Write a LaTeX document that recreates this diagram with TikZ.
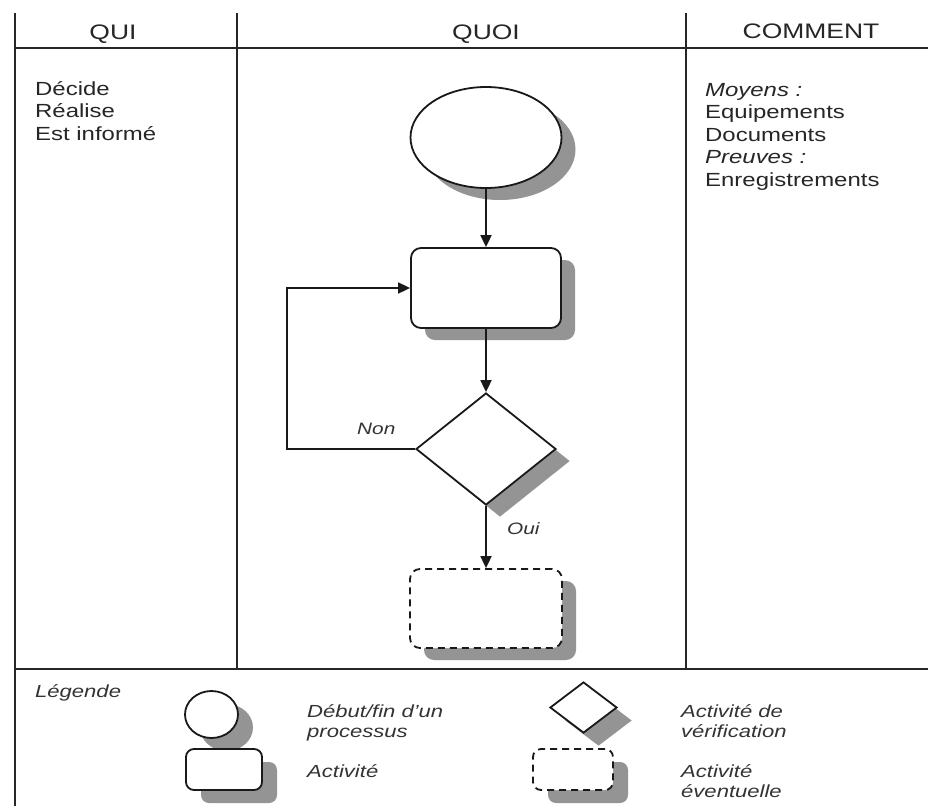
\documentclass[tikz,border=0pt]{standalone}
\usepackage{fontspec}
\setmainfont{Liberation Sans}
\usetikzlibrary{shapes.geometric,shadows,arrows.meta}
\newcommand{\stx}[1]{\scalebox{1.26}[1]{#1}}
\begin{document}
\begin{tikzpicture}[x=1pt,y=-1pt,
  tline/.style={draw=black!85,line width=2.4pt},
  fline/.style={draw=black!90,line width=1.8pt},
  arr/.style={fline,-{Triangle[length=12pt,width=11pt]}},
  shad/.style={drop shadow={shadow xshift=14pt,shadow yshift=-12pt,fill=black!42,opacity=1}},
  lshad/.style={drop shadow={shadow xshift=15pt,shadow yshift=-13pt,fill=black!42,opacity=1}},
  shapebox/.style={fline,fill=white,inner sep=0pt},
  dashbox/.style={shapebox,dash pattern=on 7pt off 5pt},
  txt/.style={inner sep=0pt,text=black!85,anchor=base west,font=\fontsize{19}{22}\selectfont},
  hdr/.style={inner sep=0pt,text=black!85,anchor=base,font=\fontsize{21}{24}\selectfont},
  leg/.style={inner sep=0pt,text=black!80,anchor=base west,font=\fontsize{17.5}{20}\selectfont\itshape},
  lbl/.style={inner sep=0pt,text=black!80,anchor=base west,font=\fontsize{16.5}{19}\selectfont\itshape}
]
\useasboundingbox[fill=white] (0,0) rectangle (928,806);

% table
\coordinate (tl) at (15,13);
\coordinate (bl) at (15,806);
\coordinate (d1t) at (237,13);
\coordinate (d1b) at (237,669);
\coordinate (d2t) at (686,13);
\coordinate (d2b) at (686,669);
\coordinate (h1l) at (15,48);
\coordinate (h1r) at (928,48);
\coordinate (h2l) at (15,669);
\coordinate (h2r) at (928,669);
\draw[tline] (tl) -- (bl);
\draw[tline] (d1t) -- (d1b);
\draw[tline] (d2t) -- (d2b);
\draw[tline] (h1l) -- (h1r);
\draw[tline] (h2l) -- (h2r);

% headers
\node[hdr] (hqui) at (113,39) {\stx{QUI}};
\node[hdr] (hquoi) at (486,39) {\stx{QUOI}};
\node[hdr] (hcomment) at (811,38) {\stx{COMMENT}};

% QUI column
\node[txt] (q1) at (35,95) {\stx{Décide}};
\node[txt] (q2) at (35,117.5) {\stx{Réalise}};
\node[txt] (q3) at (35,140) {\stx{Est informé}};

% COMMENT column
\node[txt] (c1) at (705,96) {\stx{\itshape Moyens :}};
\node[txt] (c2) at (705,118.5) {\stx{Equipements}};
\node[txt] (c3) at (705,141) {\stx{Documents}};
\node[txt] (c4) at (705,163.5) {\stx{\itshape Preuves :}};
\node[txt] (c5) at (705,186) {\stx{Enregistrements}};

% flowchart
\node[shapebox,shad,ellipse,minimum width=151pt,minimum height=101pt] (start) at (486,137.5) {};
\node[shapebox,shad,rectangle,rounded corners=10pt,minimum width=150pt,minimum height=80pt] (act) at (486,288) {};
\node[shapebox,shad,diamond,minimum width=140pt,minimum height=112pt] (chk) at (486,449) {};
\node[dashbox,shad,rectangle,rounded corners=10pt,minimum width=152pt,minimum height=79pt] (opt) at (486,608.5) {};

\coordinate (lp) at (287,449);
\draw[arr] (start.south) -- (act.north);
\draw[arr] (act.south) -- (chk.north);
\draw[arr] (chk.west) -- (lp) |- (act.west);
\draw[arr] (chk.south) -- (opt.north);
\node[lbl] (non) at (357,434) {\stx{Non}};
\node[lbl] (oui) at (507,534) {\stx{Oui}};

% legend
\node[leg] (legende) at (35,697) {\stx{Légende}};
\node[shapebox,lshad,ellipse,minimum width=53pt,minimum height=47pt] (lstart) at (211.5,714.5) {};
\node[shapebox,lshad,rectangle,rounded corners=8pt,minimum width=76pt,minimum height=41pt] (lact) at (224,769.5) {};
\node[shapebox,lshad,diamond,minimum width=67pt,minimum height=51pt] (lchk) at (583.5,707.5) {};
\node[dashbox,lshad,rectangle,rounded corners=8pt,minimum width=80pt,minimum height=41pt] (lopt) at (573,769.5) {};

\node[leg] (t1a) at (307,717) {\stx{Début/fin d'un}};
\node[leg] (t1b) at (307,737) {\stx{processus}};
\node[leg] (t2) at (307,777) {\stx{Activité}};
\node[leg] (t3a) at (681,717) {\stx{Activité de}};
\node[leg] (t3b) at (681,737) {\stx{vérification}};
\node[leg] (t4a) at (681,777) {\stx{Activité}};
\node[leg] (t4b) at (681,797) {\stx{éventuelle}};
\end{tikzpicture}
\end{document}
